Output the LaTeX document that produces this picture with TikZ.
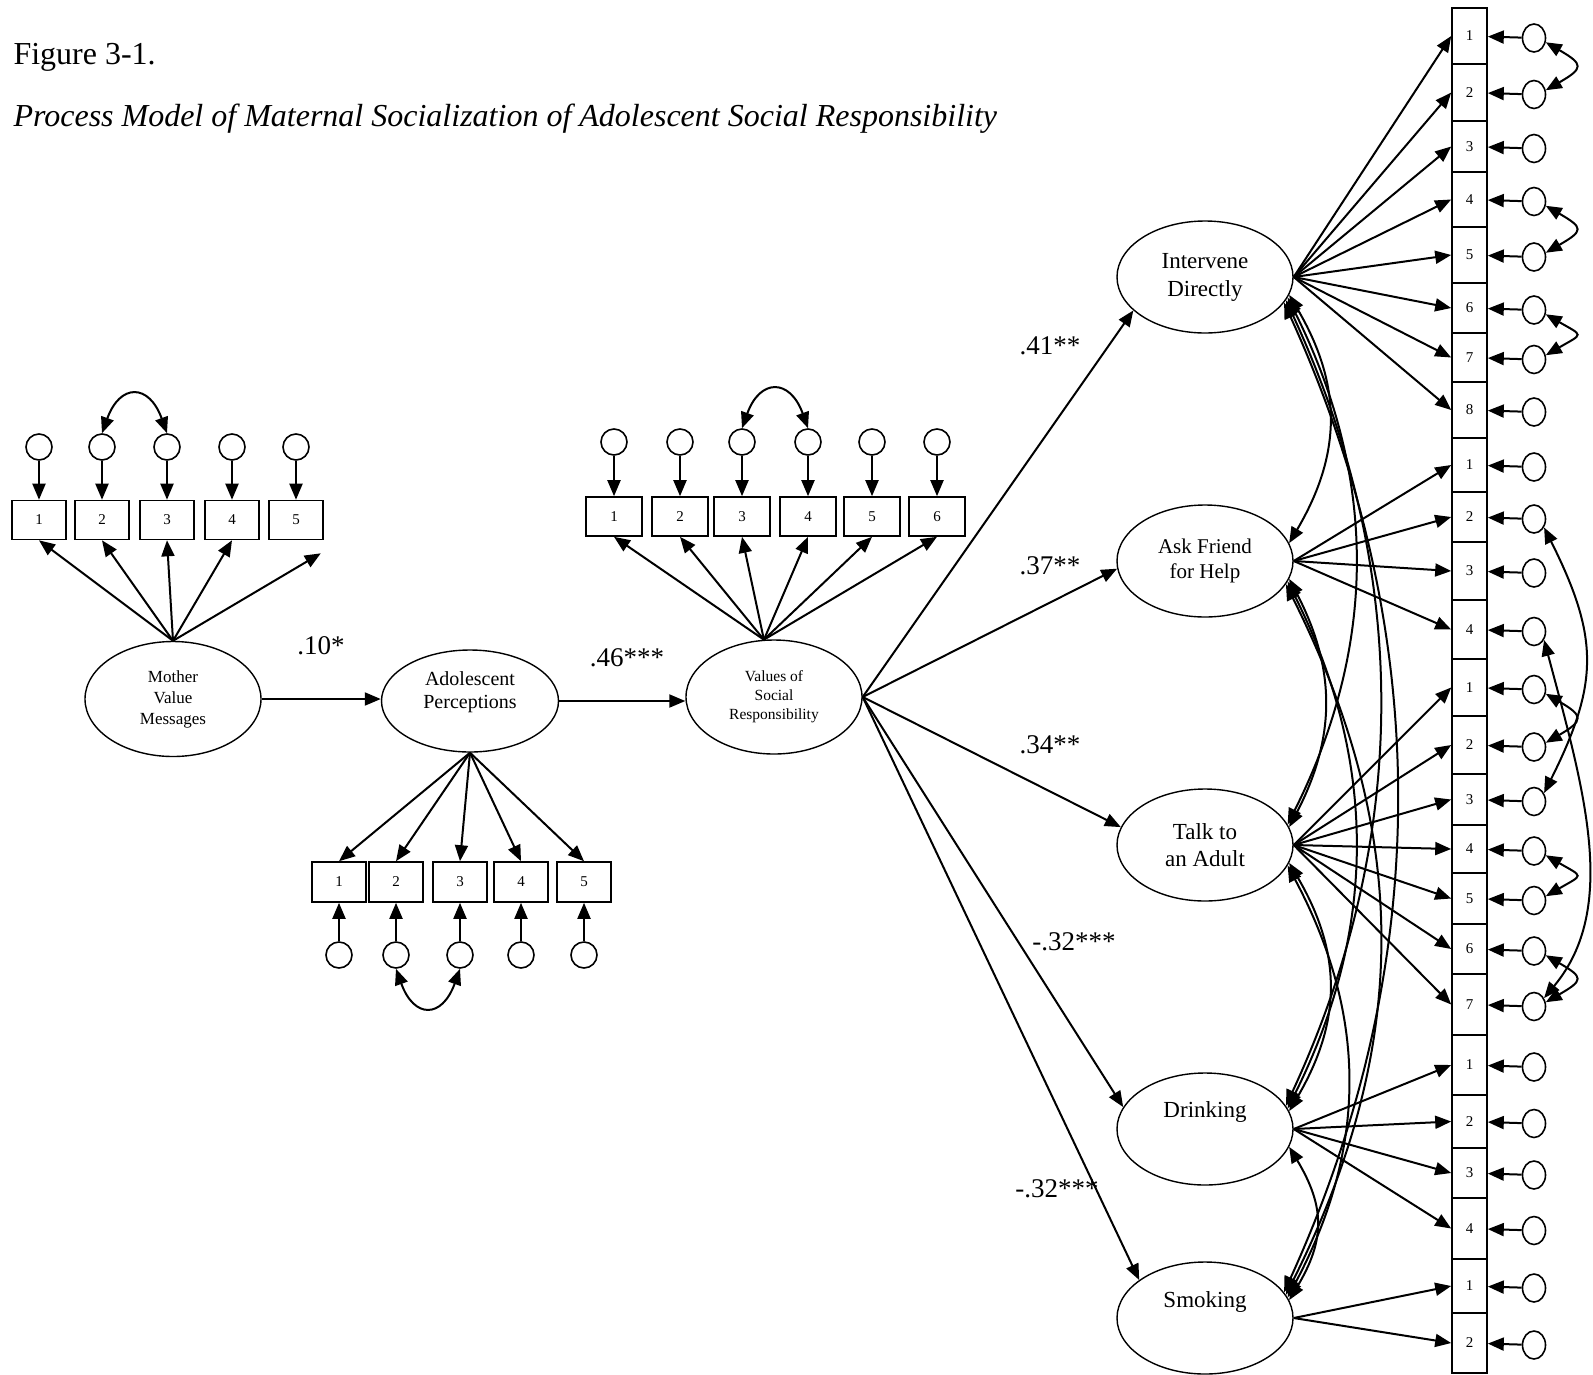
\documentclass[tikz,border=0pt]{standalone}
\usepackage{fontspec}
\setmainfont{Liberation Serif}
\usepackage{tikz}
\usetikzlibrary{shapes.geometric, arrows.meta, positioning, calc}
\tikzstyle{latent} = [draw, ellipse, line width=1.4pt, minimum width=176pt, minimum height=112pt, inner sep=0pt, align=center]
\tikzstyle{ind} = [draw, rectangle, line width=1.6pt, inner sep=0pt, font=\fontsize{15}{18}\selectfont]
\tikzstyle{err} = [draw, circle, line width=1.6pt, minimum size=26pt, inner sep=0pt]
\tikzstyle{erv} = [draw, ellipse, line width=1.6pt, minimum width=23pt, minimum height=28pt, inner sep=0pt]
\tikzstyle{arrow} = [line width=2pt, -{Triangle[length=16pt,width=13pt]}]
\tikzstyle{cov} = [line width=2pt, {Triangle[length=16pt,width=13pt]}-{Triangle[length=16pt,width=13pt]}]
\tikzstyle{coef} = [font=\fontsize{27}{32}\selectfont]

\begin{document}
\begin{tikzpicture}[x=1pt, y=-1pt]
\useasboundingbox (0,0) rectangle (1593,1374);

% title
\node[anchor=west, font=\fontsize{32}{37}\selectfont] (fig) at (10,57) {Figure 3-1.};
\node[anchor=west, font=\fontsize{32}{37}\selectfont\itshape] (title) at (10,119) {Process Model of Maternal Socialization of Adolescent Social Responsibility};

% latent variables on the left
\node[latent, minimum height=115pt, font=\fontsize{17}{21}\selectfont] (mvm) at (173,699) {Mother\\Value\\Messages};
\node[latent, minimum width=177pt, minimum height=102pt, label={[font=\fontsize{20}{23}\selectfont, align=center, yshift=9pt]center:Adolescent\\Perceptions}] (ap) at (470,701) {};
\node[latent, minimum height=114pt, font=\fontsize{15.5}{19}\selectfont] (vsr) at (774,697) {Values of\\Social\\Responsibility};

\draw[arrow] (mvm.east) -- (mvm.east -| ap.west);
\draw[arrow] (ap.east) -- (ap.east -| vsr.west);
\node[coef] (b1) at (321,646) {.10*};
\node[coef] (b2) at (627,658) {.46***};

% mother value messages items
\foreach \i/\x in {1/39,2/102,3/167,4/232,5/296} {
  \node[ind, minimum width=54pt, minimum height=39pt] (mv\i) at (\x,520) {\i};
  \node[err] (emv\i) at (\x,447) {};
  \draw[arrow] (emv\i) -- (mv\i);
}
\foreach \i in {1,...,4} \draw[arrow] (mvm.north) -- (mv\i.south);
\draw[arrow] (mvm.north) -- ($(mv5.south east)+(-3,13)$);
\draw[cov] (emv2.north) .. controls +(18,-50) and +(-18,-50) .. (emv3.north);

% adolescent perception items
\foreach \i/\x in {1/339,2/396,3/460,4/521,5/584} {
  \node[ind, minimum width=54pt, minimum height=40pt] (ap\i) at (\x,882) {\i};
  \node[err] (eap\i) at (\x,955) {};
  \draw[arrow] (eap\i) -- (ap\i);
  \draw[arrow] (ap.south) -- (ap\i.north);
}
\draw[cov] (eap2.south) .. controls +(18,50) and +(-18,50) .. (eap3.south);

% values items
\foreach \i/\x in {1/614,2/680,3/742,4/808,5/872,6/937} {
  \node[ind, minimum width=56pt, minimum height=39pt] (vs\i) at (\x,516.5) {\i};
  \node[err] (evs\i) at (\x,442) {};
  \draw[arrow] (evs\i) -- (vs\i);
  \draw[arrow] (vsr.100) -- (vs\i.south);
}
\draw[cov] (evs3.north) .. controls +(18,-50) and +(-18,-50) .. (evs4.north);

% outcomes
\node[latent, font=\fontsize{23}{28}\selectfont] (int) at (1205,277) {Intervene\\Directly};
\node[latent, font=\fontsize{21}{25}\selectfont] (ask) at (1205,561) {Ask Friend\\for Help};
\node[latent, font=\fontsize{23}{27}\selectfont] (talk) at (1205,845) {Talk to\\an Adult};
\node[latent, label={[font=\fontsize{23}{27}\selectfont, yshift=17pt]center:Drinking}] (drink) at (1205,1129) {};
\node[latent, label={[font=\fontsize{23}{27}\selectfont, yshift=16pt]center:Smoking}] (smoke) at (1205,1318) {};

\draw[arrow] (vsr.east) -- (int.205);
\draw[arrow] (vsr.east) -- (ask.185);
\draw[arrow] (vsr.east) -- (talk.168);
\draw[arrow] (vsr.east) -- (drink.165);
\draw[arrow] (vsr.east) -- (smoke.150);
\node[coef] (b3) at (1050,346) {.41**};
\node[coef] (b4) at (1050,566) {.37**};
\node[coef] (b5) at (1050,745) {.34**};
\node[coef] (b6) at (1074,942) {-.32***};
\node[coef] (b7) at (1057,1189) {-.32***};

% outcome items
\foreach \nm/\lab/\ya/\yb in {i1/1/8/64, i2/2/64/121, i3/3/121/172, i4/4/172/227, i5/5/227/283, i6/6/283/333, i7/7/333/382, i8/8/382/438,
  a1/1/438/492, a2/2/492/542, a3/3/542/600, a4/4/600/659,
  t1/1/659/716, t2/2/716/774, t3/3/774/825, t4/4/825/873, t5/5/873/924, t6/6/924/974, t7/7/974/1035,
  d1/1/1035/1095, d2/2/1095/1148, d3/3/1148/1198, d4/4/1198/1259,
  s1/1/1259/1313, s2/2/1313/1373} {
  \node[ind, minimum width=35pt, minimum height={(\yb-\ya)*1pt}] (\nm) at (1469.5,{(\ya+\yb)/2}) {\lab};
  \node[erv] (e\nm) at (1534,{(\ya+\yb)/2+2}) {};
  \draw[arrow] (e\nm) -- (\nm);
}
\foreach \k in {1,...,8} \draw[arrow] (int.east) -- (i\k.west);
\foreach \k in {1,...,4} \draw[arrow] (ask.east) -- (a\k.west);
\foreach \k in {1,...,7} \draw[arrow] (talk.east) -- (t\k.west);
\foreach \k in {1,...,4} \draw[arrow] (drink.east) -- (d\k.west);
\foreach \k in {1,2} \draw[arrow] (smoke.east) -- (s\k.west);

% correlated errors
\foreach \u/\v in {i1/i2, i4/i5, i6/i7, t1/t2, t4/t5, t6/t7}
  \draw[cov] (e\u.-20) .. controls +(38,22) and +(38,-22) .. (e\v.20);
\draw[cov] (ea2.-40) .. controls +(55,110) and +(55,-110) .. (et3.40);
\draw[cov] (ea4.-40) .. controls +(40,150) and +(75,-90) .. (et7.40);

% correlated outcomes
\draw[cov] (int.-12) .. controls +(53,90) and +(53,-90) .. (ask.12);
\draw[cov] (int.-14) .. controls +(90,180) and +(90,-180) .. (talk.14);
\draw[cov] (int.-16) .. controls +(125,270) and +(125,-270) .. (drink.16);
\draw[cov] (int.-18) .. controls +(150,330) and +(150,-330) .. (smoke.18);
\draw[cov] (ask.-12) .. controls +(47,90) and +(47,-90) .. (talk.12);
\draw[cov] (ask.-14) .. controls +(90,180) and +(90,-180) .. (drink.14);
\draw[cov] (ask.-16) .. controls +(125,250) and +(125,-250) .. (smoke.16);
\draw[cov] (talk.-12) .. controls +(53,90) and +(53,-90) .. (drink.12);
\draw[cov] (talk.-14) .. controls +(80,150) and +(80,-150) .. (smoke.14);
\draw[cov] (drink.-12) .. controls +(36,60) and +(36,-60) .. (smoke.12);
\end{tikzpicture}
\end{document}
